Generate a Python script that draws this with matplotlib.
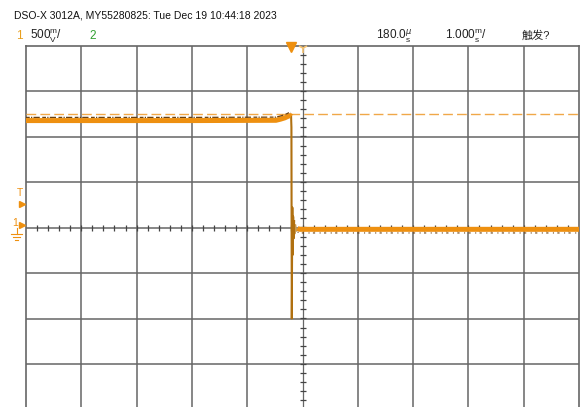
import numpy as np
import matplotlib
matplotlib.use('Agg')
import matplotlib.pyplot as plt

# channel 1 trace, time in ms from screen centre, volts (500 mV/div)
t_ch1 = [-5.0, -2.0, -0.48, -0.40, -0.32, -0.25, -0.22, -0.205,
         -0.200, -0.195, -0.190, -0.183, -0.176, -0.168, -0.160, -0.150,
         -0.140, -0.125, -0.110, -0.090, -0.05, 0.0, 2.0, 5.0]
v_ch1 = [1.175, 1.175, 1.178, 1.19, 1.205, 1.225, 1.23, 1.22,
         1.10, -1.00, -0.60, 0.22, -0.30, 0.12, -0.12, 0.07,
         -0.07, 0.03, -0.04, -0.01, -0.02, -0.02, -0.02, -0.02]
cursor_v = 1.25       # dashed cursor level
trig_v = 0.258        # trigger marker level
header = 'DSO-X 3012A, MY55280825: Tue Dec 19 10:44:18 2023'

plt.rcParams['font.family'] = ['Liberation Sans', 'Noto Sans CJK SC', 'DejaVu Sans']
plt.rcParams['mathtext.fontset'] = 'custom'
plt.rcParams['mathtext.rm'] = 'Liberation Sans'

orange = '#EE9010'
W, H = 584, 407
fig = plt.figure(figsize=(W / 100, H / 100), dpi=100)
fig.patch.set_facecolor('white')

ax = fig.add_axes([26 / W, 1 - 409.5 / H, (579 - 26) / W, (409.5 - 45.5) / H])
ax.set_xlim(-5, 5)
ax.set_ylim(-2, 2)
ax.set_xticks([])
ax.set_yticks([])
for s in ax.spines.values():
    s.set_color('#666666')
    s.set_linewidth(1.2)

grid_c = '#666666'
for x in range(-4, 5):
    ax.axvline(x, color=grid_c, lw=1.1 if x else 0.9, zorder=1)
for y in np.arange(-1.5, 2.0, 0.5):
    ax.axhline(y, color=grid_c, lw=1.1, zorder=1)

# minor ticks on the centre lines
tx = np.arange(-4.8, 5.0, 0.2)
ax.plot(tx, np.zeros_like(tx), ls='none', marker='|', ms=5, mew=0.9, color='#444444', zorder=2)
ty = np.arange(-1.9, 2.0, 0.1)
ax.plot(np.zeros_like(ty), ty, ls='none', marker='_', ms=5, mew=0.9, color='#444444', zorder=2)

ax.axhline(cursor_v, color='#F0A848', lw=1.0, dashes=(7, 3), zorder=3)

t = np.array(t_ch1)
v = np.array(v_ch1)
# thin edge / ringing
ax.plot(t, v, color='#C89A50', lw=1.0, zorder=4)
ax.plot(t[7:16], v[7:16], color='#B07010', lw=1.4, zorder=4)
# thick noisy plateaus
ax.plot(t[:8], v[:8], color=orange, lw=3.6, solid_capstyle='butt', zorder=5)
ax.plot(t[-5:], v[-5:], color=orange, lw=3.6, solid_capstyle='butt', zorder=5)
ax.plot(t[:7], v[:7] + 0.035, color='#6a4010', lw=0.9, dashes=(3, 1, 1, 1, 5, 2), zorder=6)
ax.plot(t[-5:], v[-5:] - 0.04, color='#6a4010', lw=0.8, dashes=(1, 3, 2, 4), zorder=6)

# markers
ax.plot(t[6] + 0.02, 1.985, marker='v', ms=7, color=orange, clip_on=False, zorder=7)
ax.plot(0, 1.975, marker='1', ms=7, mew=1.2, color='#F2C070', clip_on=False, zorder=7)
ax.plot(-5.07, trig_v, marker='>', ms=4, color=orange, clip_on=False, zorder=7)
ax.text(-5.06, trig_v + 0.12, 'T', color=orange, fontsize=7.5, ha='right', va='center')
ax.plot(-5.07, 0.03, marker='>', ms=4, color=orange, clip_on=False, zorder=7)
ax.text(-5.14, 0.05, '1', color=orange, fontsize=7.5, ha='right', va='center')
# ground symbol below the channel 1 marker
gx = -5.17
ax.plot([gx, gx], [0.0, -0.07], color=orange, lw=0.8, clip_on=False)
for i, half in enumerate([0.10, 0.065, 0.03]):
    yy = -0.07 - i * 0.035
    ax.plot([gx - half, gx + half], [yy, yy], color=orange, lw=0.8, clip_on=False)

# header texts
fig.text(14 / W, 1 - 16 / H, header, fontsize=7.5, color='#111111', va='center')
yr = 1 - 36 / H
fig.text(16 / W, yr, '1', fontsize=8.5, color='#E8A020', va='center')
fig.text(30 / W, yr, r'500$^{\mathrm{m}}_{\mathrm{V}}$/', fontsize=8.5, color='#222222', va='center')
fig.text(89 / W, yr, '2', fontsize=8.5, color='#30A030', va='center')
fig.text(376 / W, yr, r'180.0$^{\mu}_{\mathrm{s}}$', fontsize=8.5, color='#222222', va='center')
fig.text(445 / W, yr, r'1.000$^{\mathrm{m}}_{\mathrm{s}}$/', fontsize=8.5, color='#222222', va='center')
fig.text(522 / W, yr, '触发?', fontsize=8, color='#222222', va='center')

fig.savefig('out.png', dpi=100)
